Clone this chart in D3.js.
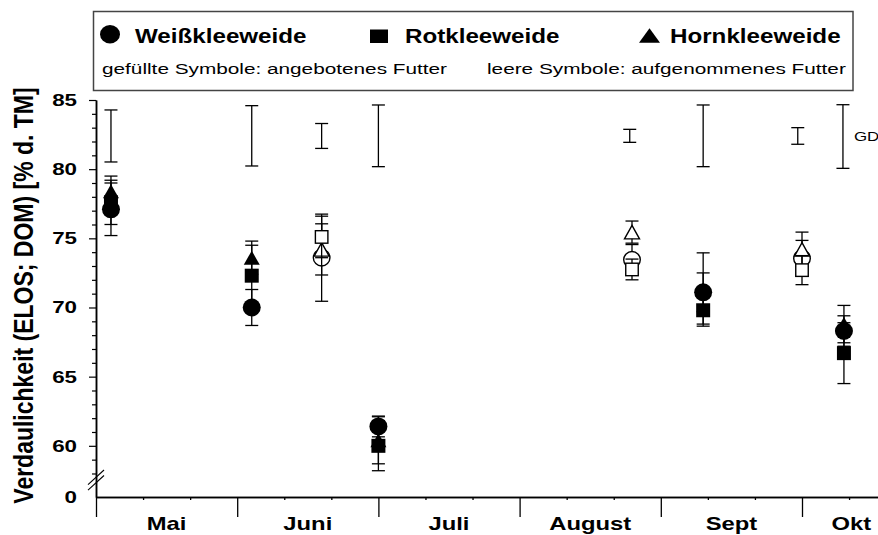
<!DOCTYPE html>
<html>
<head>
<meta charset="utf-8">
<script src="https://cdn.jsdelivr.net/npm/d3@7"></script>
<style>
  html, body { margin: 0; padding: 0; background: #fff; }
  svg { display: block; }
  text { font-family: "Liberation Sans", Arial, Helvetica, sans-serif; fill: #000; }
</style>
</head>
<body>
<svg id="chart" width="878" height="535"></svg>
<script>
// ---------- data ----------
const monthLabels   = ["Mai", "Juni", "Juli", "August", "Sept", "Okt"];
const monthLabelPos = [0.5, 1.5, 2.5, 3.5, 4.5, 5.35];   // month units
const monthTicks    = [0, 1, 2, 3, 4, 5];
const yMajorTicks   = [60, 65, 70, 75, 80, 85];

// sampling dates in month units (0 = start of May)
const filledDates = [0.106, 1.103, 2.0, 4.30, 5.297];   // angebotenes Futter
const openDates   = [1.598, 3.796, 5.0];                 // aufgenommenes Futter

const weissFilled    = [77.1, 70.0, 61.4, 71.1, 68.3];
const weissFilledErr = [1.9, 1.3, 0.75, 1.4, 1.1];
const rotFilled      = [77.6, 72.3, 60.0, 69.8, 66.7];
const rotFilledErr   = [1.6, 2.2, 1.8, 1.0, 2.2];
const hornFilled     = [78.4, 73.6, 60.4, 71.3, 68.8];
const hornFilledErr  = [1.1, 1.2, 1.7, 2.65, 1.35];

const weissOpen    = [73.6, 73.45, 73.55];
const weissOpenErr = [3.15, 1.1, 1.3];
const rotOpen      = [75.1, 72.75, 72.7];
const rotOpenErr   = [1.5, 0.75, 1.05];
const hornOpen     = [74.2, 75.45, 74.2];
const hornOpenErr  = [1.85, 0.8, 1.25];

// GD (Grenzdifferenz) bars
const gdDates  = [0.106, 1.103, 1.598, 2.0, 3.78, 4.30, 4.97, 5.29];
const gdCenter = [82.4, 82.41, 82.4, 82.41, 82.41, 82.41, 82.4, 82.36];
const gdHalf   = [1.88, 2.18, 0.9, 2.23, 0.47, 2.23, 0.6, 2.3];

const seriesNames = ["Weißkleeweide", "Rotkleeweide", "Hornkleeweide"];

// ---------- layout ----------
const svg = d3.select("#chart");
const X0 = 96, MONTH_W = 141.2, PLOT_BOTTOM = 497, PLOT_TOP = 100;
const yBreakMin = 56.3;   // value at the x axis (below the axis break shown as 0)

const x = d3.scaleLinear().domain([0, 5.55]).range([X0, X0 + 5.55 * MONTH_W]);
const y = d3.scaleLinear().domain([yBreakMin, 85]).range([PLOT_BOTTOM, PLOT_TOP]);

function stext(g, px, py, str, size, weight, sx, anchor) {
  return g.append("text")
    .attr("transform", `translate(${px},${py}) scale(${sx},1)`)
    .attr("text-anchor", anchor || "start")
    .style("font-size", size + "px")
    .style("font-weight", weight)
    .text(str);
}

// ---------- axes ----------
const yMinor = d3.range(58, 85).filter(v => !yMajorTicks.includes(v));
const gy = svg.append("g").attr("transform", `translate(${X0},0)`);
gy.call(d3.axisLeft(y).tickValues(yMinor).tickSize(4).tickSizeOuter(0).tickFormat(""));
gy.append("g").call(d3.axisLeft(y).tickValues(yMajorTicks).tickSize(7).tickSizeOuter(0).tickFormat(""));
gy.selectAll(".domain").attr("stroke", "#000").attr("stroke-width", 1.5);
gy.selectAll(".tick line").attr("stroke", "#000").attr("stroke-width", 1.2);

yMajorTicks.forEach(v => {
  stext(svg, 77, y(v) + 6, String(v), 17.2, "bold", 1.3, "end");
});
stext(svg, 77, y(yBreakMin) + 6, "0", 17.2, "bold", 1.3, "end");

// axis break marks
const brk = svg.append("g").attr("stroke", "#000").attr("stroke-width", 1.1);
[0, 5.5].forEach(off => {
  brk.append("line")
    .attr("x1", X0 - 8).attr("y1", y(57.2) + off)
    .attr("x2", X0 + 8).attr("y2", y(58.25) + off);
});

// x axis
const gx = svg.append("g").attr("transform", `translate(0,${PLOT_BOTTOM})`);
const minorMonths = d3.range(0, 17).map(i => i / 3).filter(v => Math.abs(v - Math.round(v)) > 0.01);
gx.call(d3.axisBottom(x).tickValues(minorMonths).tickSize(3).tickSizeOuter(0).tickFormat(""));
gx.append("g").call(d3.axisBottom(x).tickValues(monthTicks).tickSize(20).tickSizeOuter(0).tickFormat(""));
gx.selectAll(".domain").attr("stroke", "#000").attr("stroke-width", 1.5);
gx.selectAll(".tick line").attr("stroke", "#000").attr("stroke-width", 1.3);

monthLabels.forEach((m, i) => {
  stext(svg, x(monthLabelPos[i]), 530, m, 18.3, "bold", 1.3, "middle");
});

// y axis title
svg.append("text")
  .attr("transform", `translate(33,295.5) scale(1.21,1) rotate(-90)`)
  .attr("text-anchor", "middle")
  .style("font-size", "23px")
  .style("font-weight", "bold")
  .text("Verdaulichkeit (ELOS; DOM) [% d. TM]");

// ---------- error bars ----------
const CAP = 6.5;
function errBar(g, xv, lo, hi) {
  const px = x(xv);
  g.append("line").attr("x1", px).attr("x2", px).attr("y1", y(hi)).attr("y2", y(lo));
  g.append("line").attr("x1", px - CAP).attr("x2", px + CAP).attr("y1", y(hi)).attr("y2", y(hi));
  g.append("line").attr("x1", px - CAP).attr("x2", px + CAP).attr("y1", y(lo)).attr("y2", y(lo));
}

const gdG = svg.append("g").attr("stroke", "#000").attr("stroke-width", 1.3);
gdDates.forEach((d, i) => errBar(gdG, d, gdCenter[i] - gdHalf[i], gdCenter[i] + gdHalf[i]));
stext(svg, x(5.29) + 11, y(82.4) + 5, "GD", 13, "normal", 1.3, "start");

// ---------- markers ----------
function drawMarker(g, shape, px, py, filled) {
  const fill = filled ? "#000" : "#fff";
  const sw = filled ? 0 : 1.4;
  if (shape === "circle") {
    const r = filled ? 9 : 8.3;
    g.append("circle").attr("cx", px).attr("cy", py).attr("r", r)
      .attr("fill", fill).attr("stroke", "#000").attr("stroke-width", sw);
  } else if (shape === "square") {
    const s = filled ? 14 : 12.5;
    g.append("rect").attr("x", px - s / 2).attr("y", py - s / 2).attr("width", s).attr("height", s)
      .attr("fill", fill).attr("stroke", "#000").attr("stroke-width", sw);
  } else {
    const w = filled ? 16 : 15, h = filled ? 14 : 13.5;
    g.append("path")
      .attr("d", `M${px},${py - h / 2}L${px + w / 2},${py + h / 2}L${px - w / 2},${py + h / 2}Z`)
      .attr("fill", fill).attr("stroke", "#000").attr("stroke-width", sw);
  }
}

function drawSeries(dates, vals, errs, shape, filled) {
  const g = svg.append("g");
  const eg = g.append("g").attr("stroke", "#000").attr("stroke-width", 1.3);
  dates.forEach((d, i) => errBar(eg, d, vals[i] - errs[i], vals[i] + errs[i]));
  dates.forEach((d, i) => drawMarker(g, shape, x(d), y(vals[i]), filled));
}

drawSeries(filledDates, weissFilled, weissFilledErr, "circle", true);
drawSeries(filledDates, hornFilled, hornFilledErr, "triangle", true);
drawSeries(filledDates, rotFilled, rotFilledErr, "square", true);
drawSeries(openDates, weissOpen, weissOpenErr, "circle", false);
drawSeries(openDates, hornOpen, hornOpenErr, "triangle", false);
drawSeries(openDates, rotOpen, rotOpenErr, "square", false);

// ---------- legend ----------
const lg = svg.append("g");
lg.append("rect").attr("x", 93.5).attr("y", 11.5).attr("width", 759.5).attr("height", 79)
  .attr("fill", "#fff").attr("stroke", "#444").attr("stroke-width", 1.5);
lg.append("ellipse").attr("cx", 110).attr("cy", 34.3).attr("rx", 10).attr("ry", 9.2).attr("fill", "#000");
lg.append("rect").attr("x", 370).attr("y", 29.5).attr("width", 18).attr("height", 13.5).attr("fill", "#000");
lg.append("path").attr("d", "M649.5,28.3L660,42.7L639,42.7Z").attr("fill", "#000");
stext(lg, 135, 42.5, seriesNames[0], 19.5, "bold", 1.24, "start");
stext(lg, 405, 42.5, seriesNames[1], 19.5, "bold", 1.24, "start");
stext(lg, 670, 42.5, seriesNames[2], 19.5, "bold", 1.24, "start");
stext(lg, 102, 74, "gefüllte Symbole: angebotenes Futter", 15.5, "normal", 1.34, "start");
stext(lg, 487, 74, "leere Symbole: aufgenommenes Futter", 15.5, "normal", 1.34, "start");
</script>
</body>
</html>
